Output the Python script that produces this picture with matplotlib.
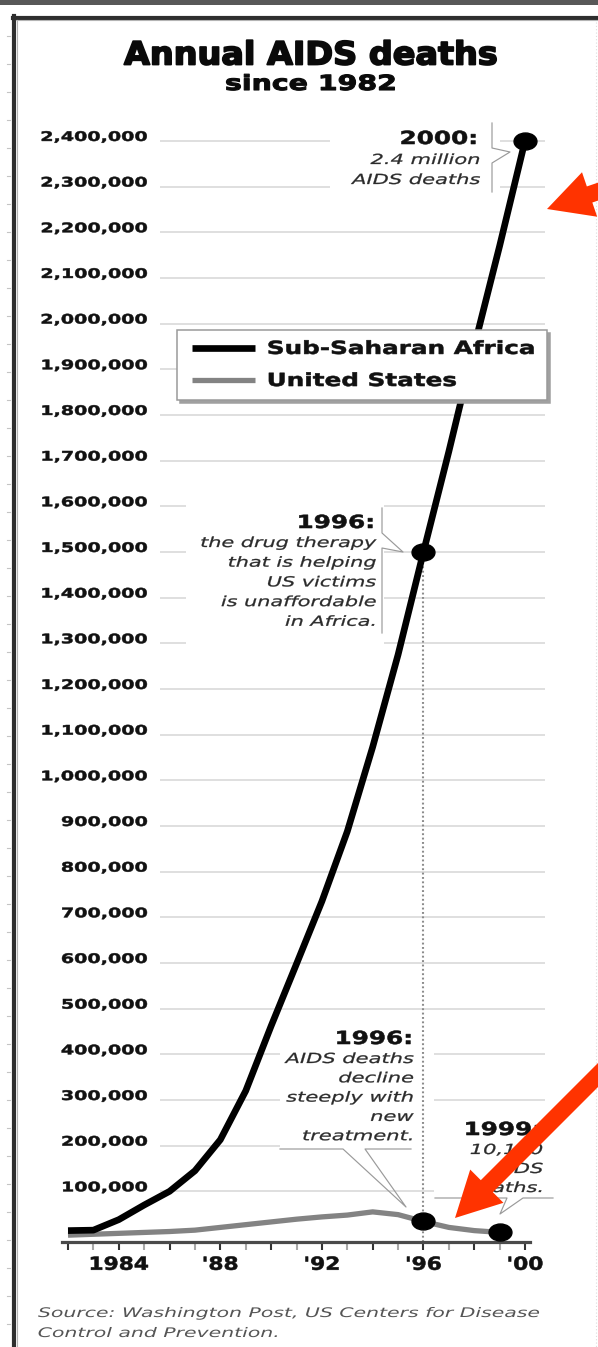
import matplotlib
matplotlib.use("Agg")
import matplotlib.pyplot as plt
from matplotlib.transforms import Affine2D, IdentityTransform
from matplotlib.patheffects import AbstractPathEffect
from matplotlib.textpath import TextPath
from matplotlib.font_manager import FontProperties
from matplotlib.markers import MarkerStyle
from matplotlib.patches import Rectangle, FancyArrow
from matplotlib.lines import Line2D
from matplotlib.legend_handler import HandlerLine2D
from matplotlib.ticker import FixedLocator, FixedFormatter

# ---------------- data ----------------
years = list(range(1982, 2001))
africa_deaths = [14000, 15000, 38000, 70000, 100000, 145000, 213000, 320000,
                 462000, 598000, 735000, 888000, 1073000, 1275000, 1500000,
                 1720000, 1950000, 2170000, 2400000]
us_years = list(range(1982, 2000))
us_deaths = [4000, 6000, 8000, 10000, 12000, 15000, 21000, 27000, 33000,
             39000, 44000, 48000, 55000, 49000, 34000, 21000, 14000, 10100]
africa_marked_years = [1996, 2000]
us_marked_years = [1996, 1999]
series_names = ["Sub-Saharan Africa", "United States"]
ytick_values = list(range(100000, 2400001, 100000))
ytick_labels = [f"{v:,}" for v in ytick_values]
xtick_labels = {1984: "1984", 1988: "'88", 1992: "'92", 1996: "'96", 2000: "'00"}

# ---------------- canvas ----------------
W, H, DPI = 598, 1347, 100
FAMILY = "DejaVu Sans"
fig = plt.figure(figsize=(W / DPI, H / DPI), dpi=DPI, facecolor="white")
PX = Affine2D().scale(1, -1).translate(0, H)       # pixel coords, origin top-left


class Widen(AbstractPathEffect):
    """Draw text glyphs horizontally widened about the aligned edge."""

    def __init__(self, sx, anchor="left", stroke=0.0):
        super().__init__()
        self.sx, self.anchor, self.stroke = sx, anchor, stroke

    def draw_path(self, renderer, gc, tpath, affine, rgbFace=None):
        ext = tpath.get_extents()
        x0 = {"left": ext.x0, "right": ext.x1,
              "center": 0.5 * (ext.x0 + ext.x1)}[self.anchor]
        aff = Affine2D().translate(-x0, 0).scale(self.sx, 1).translate(x0, 0) + affine
        gc0 = renderer.new_gc()
        gc0.copy_properties(gc)
        if self.stroke > 0:
            gc0.set_linewidth(self.stroke)
            gc0.set_foreground(rgbFace)
            gc0.set_joinstyle("round")
        renderer.draw_path(gc0, tpath, aff, rgbFace)
        gc0.restore()


def ink_width(s, size, weight="normal", style="normal"):
    fp = FontProperties(family=FAMILY, weight=weight, style=style)
    return TextPath((0, 0), s, size=size * DPI / 72, prop=fp).get_extents().width


def put(x, y, s, size, sx=1.0, ha="left", weight="normal", style="normal",
        color="#111111", stroke=0.0):
    t = fig.text(x, y, s, transform=PX, ha=ha, va="baseline", fontsize=size,
                 fontweight=weight, fontstyle=style, color=color, family=FAMILY,
                 zorder=10)
    t.set_path_effects([Widen(sx, ha, stroke)])
    return t


def stack(x, y0, dy, lines, size, sx, ha="right", style="italic", color="#2b2b2b",
          stroke=0.0):
    for i, s in enumerate(lines):
        put(x, y0 + i * dy, s, size, sx, ha=ha, style=style, color=color, stroke=stroke)


def px_line(xs, ys, color="#9a9a9a", lw=0.85, **kw):
    fig.add_artist(Line2D(xs, ys, transform=PX, color=color, lw=lw, **kw))


# ---------------- page frame ----------------
fig.add_artist(Rectangle((0, 0), W, 4.5, transform=PX, facecolor="#585858",
                         edgecolor="none"))
px_line([14, 14], [16, H], color="#2e2e2e", lw=3.0)
px_line([12.5, W], [17.5, 17.5], color="#2e2e2e", lw=3.0)
px_line([16.8, 16.8], [20, H], color="#b4b4b4", lw=0.8)
px_line([16, W], [20.3, 20.3], color="#b4b4b4", lw=0.8)
px_line([596, 596], [22, H], color="#dcdcdc", lw=0.8, linestyle=(0, (1, 2)))
for yy in range(36, H, 28):
    px_line([6.5, 10], [yy, yy], color="#c4c4c4", lw=0.8)

# ---------------- axes ----------------
AX_L, AX_R, AX_T, AX_B = 60, 547, 118, 1242
X0, XS = 68, 25.39            # pixel of 1982, pixels per year
ZERO, YS = 1237, 45.67        # pixel of 0 deaths, pixels per 100,000
ax = fig.add_axes([AX_L / W, 1 - AX_B / H, (AX_R - AX_L) / W, (AX_B - AX_T) / H])
ax.set_facecolor("none")
ax.set_xlim(1982 - (X0 - AX_L) / XS, 1982 + (AX_R - X0) / XS)
ax.set_ylim(-(AX_B - ZERO) / YS * 1e5, (ZERO - AX_T) / YS * 1e5)
for side in ("top", "right", "left"):
    ax.spines[side].set_visible(False)
ax.spines["bottom"].set_color("#4a4a4a")
ax.spines["bottom"].set_linewidth(2.3)
ax.spines["bottom"].set_bounds(1981.75, 2000.2)

# horizontal guide lines
ax.hlines(ytick_values, (160 - AX_L) / (AX_R - AX_L), (545 - AX_L) / (AX_R - AX_L),
          transform=ax.get_yaxis_transform(), colors="#d9d9d9", lw=1.2, zorder=0.5)

# white backing behind the notes
for (bx, by, bw, bh) in [(330, 118, 170, 78), (186, 504, 198, 145),
                         (280, 1022, 154, 126), (434, 1117, 122, 80)]:
    ax.add_patch(Rectangle((bx, by), bw, bh, transform=PX, facecolor="white",
                           edgecolor="none", zorder=1, clip_on=False))

# series
l_af, = ax.plot(years, africa_deaths, color="black", lw=4.8,
                solid_capstyle="butt", solid_joinstyle="round", zorder=4)
l_us, = ax.plot(us_years, us_deaths, color="#838383", lw=3.8,
                solid_capstyle="butt", solid_joinstyle="round", zorder=3)

oval = MarkerStyle("o", transform=Affine2D().scale(1.35, 1.0))
ax.plot(africa_marked_years, [africa_deaths[years.index(y)] for y in africa_marked_years],
        linestyle="none", marker=oval, ms=12.2, color="black", zorder=6, clip_on=False)
ax.plot(us_marked_years, [us_deaths[us_years.index(y)] for y in us_marked_years],
        linestyle="none", marker=oval, ms=12.2, color="black", zorder=6, clip_on=False)

# dotted drop line from the 1996 Africa point
ax.vlines(1996, ax.get_ylim()[0], africa_deaths[years.index(1996)], colors="#8c8c8c",
          lw=1.5, linestyles=(0, (0.9, 1.2)), zorder=2.5)

# y ticks
ax.yaxis.set_major_locator(FixedLocator(ytick_values))
ax.yaxis.set_major_formatter(FixedFormatter(ytick_labels))
ax.tick_params(axis="y", length=0, pad=-(148 - AX_L) * 0.72, labelsize=9.5,
               labelcolor="#111111")
sx_y = 105 / ink_width("2,400,000", 9.5, "bold")
for lab in ax.get_yticklabels():
    lab.set_fontweight("bold")
    lab.set_family(FAMILY)
    lab.set_va("baseline")
    lab.set_path_effects([Widen(sx_y, "right", 0.35)])

# x ticks
major_years = [y for y in years if y % 2 == 0]
minor_years = [y for y in years if y % 2 == 1]
ax.xaxis.set_major_locator(FixedLocator(major_years))
ax.xaxis.set_major_formatter(FixedFormatter([xtick_labels.get(y, "") for y in major_years]))
ax.xaxis.set_minor_locator(FixedLocator(minor_years))
ax.tick_params(axis="x", which="major", direction="out", length=5.8, width=1.5,
               color="#333333", pad=14.2, labelsize=13, labelcolor="#111111")
ax.tick_params(axis="x", which="minor", direction="out", length=5.8, width=1.5,
               color="#a8a8a8")
sx_x = 57 / ink_width("1984", 13, "bold")
for lab in ax.get_xticklabels():
    lab.set_fontweight("bold")
    lab.set_family(FAMILY)
    lab.set_va("baseline")
    lab.set_path_effects([Widen(sx_x, "center", 0.4)])

# legend
fs_leg = 13
handler = HandlerLine2D(xpad=0.28)
leg = ax.legend([l_af, l_us], series_names, loc="upper left",
                bbox_to_anchor=(177, H - 407, 370, 77), bbox_transform=IdentityTransform(),
                mode="expand", borderaxespad=0, borderpad=0.55, handlelength=3.78,
                handletextpad=0.67, labelspacing=0.78, fancybox=False, framealpha=1,
                edgecolor="#9a9a9a", shadow={"color": "#a0a0a0", "alpha": 1},
                prop={"family": FAMILY, "weight": "bold", "size": fs_leg},
                handler_map={l_af: handler, l_us: handler})
leg.get_frame().set_linewidth(1.1)
leg.set_zorder(8)
sx_leg = 265 / ink_width("Sub-Saharan Africa", fs_leg, "bold")
for t in leg.get_texts():
    t.set_color("#111111")
    t.set_path_effects([Widen(sx_leg, "left", 0.4)])

# ---------------- titles ----------------
put(311, 64.5, "Annual AIDS deaths", 23,
    372 / ink_width("Annual AIDS deaths", 23, "bold"), ha="center", weight="bold",
    color="#0a0a0a", stroke=1.3)
put(311, 90, "since 1982", 15, 168 / ink_width("since 1982", 15, "bold"),
    ha="center", weight="bold", color="#0a0a0a", stroke=0.8)

# ---------------- notes ----------------
SZ_B, SZ_I = 13, 10
sx_head = 73 / ink_width("1996:", SZ_B, "bold")
sx_note = 129 / ink_width("AIDS deaths", SZ_I, style="italic")

put(477, 144, "2000:", SZ_B, sx_head, ha="right", weight="bold", stroke=0.4)
stack(480, 164, 20, ["2.4 million", "AIDS deaths"], SZ_I, sx_note, stroke=0.2)
px_line([492, 492, 510, 492, 492], [123, 148, 152, 163, 192])

put(374, 528, "1996:", SZ_B, sx_head, ha="right", weight="bold", stroke=0.4)
stack(376, 547, 19.7, ["the drug therapy", "that is helping", "US victims",
                       "is unaffordable", "in Africa."], SZ_I,
      175 / ink_width("the drug therapy", SZ_I, style="italic"), stroke=0.2)
px_line([382, 382, 403, 382, 382], [508, 533, 552, 548, 633])

put(412, 1044, "1996:", SZ_B, sx_head, ha="right", weight="bold", stroke=0.4)
stack(413.5, 1063, 19.3, ["AIDS deaths", "decline", "steeply with", "new",
                          "treatment."], SZ_I, sx_note, stroke=0.2)
px_line([280, 343, 406, 365, 411], [1149, 1149, 1207, 1149, 1149])

put(541, 1135, "1999:", SZ_B, sx_head, ha="right", weight="bold", stroke=0.4)
stack(543, 1154, 19, ["10,100", "AIDS", "deaths."], SZ_I, sx_note, stroke=0.2)
px_line([435, 507, 500, 523, 553], [1198, 1198, 1214, 1198, 1198])

# source
SRC = ["Source: Washington Post, US Centers for Disease", "Control and Prevention."]
sx_src = 501 / ink_width(SRC[0], 9.5, style="italic")
stack(38, 1317, 20, SRC, 9.5, sx_src, ha="left", color="#555555")

# ---------------- red pointers ----------------
RED = "#ff3300"
for (tip, tail) in [((455, 1218), (700, 973)), ((547, 209), (783.5, 128.4))]:
    fig.add_artist(FancyArrow(tail[0], tail[1], tip[0] - tail[0], tip[1] - tail[1],
                              width=17, head_width=47, head_length=45,
                              length_includes_head=True, transform=PX,
                              facecolor=RED, edgecolor="none", zorder=30))

fig.savefig("out.png", dpi=DPI, facecolor="white")
